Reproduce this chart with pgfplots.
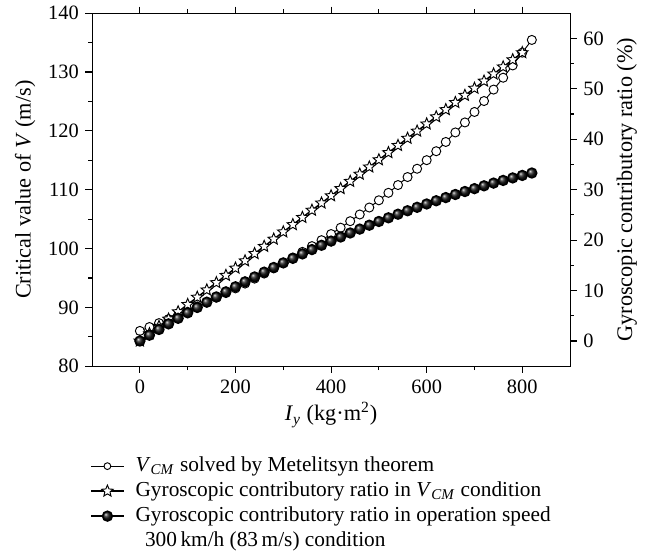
\documentclass[border=0pt]{standalone}
\usepackage{fontspec}
\setmainfont{Liberation Serif}
\usepackage{pgfplots}
\pgfplotsset{compat=1.18}
\pgfdeclareplotmark{hstar}{%
  \pgfpathmoveto{\pgfpointpolar{90}{\pgfplotmarksize}}%
  \pgfpathlineto{\pgfpointpolar{126}{0.45\pgfplotmarksize}}%
  \pgfpathlineto{\pgfpointpolar{162}{\pgfplotmarksize}}%
  \pgfpathlineto{\pgfpointpolar{198}{0.45\pgfplotmarksize}}%
  \pgfpathlineto{\pgfpointpolar{234}{\pgfplotmarksize}}%
  \pgfpathlineto{\pgfpointpolar{270}{0.45\pgfplotmarksize}}%
  \pgfpathlineto{\pgfpointpolar{306}{\pgfplotmarksize}}%
  \pgfpathlineto{\pgfpointpolar{342}{0.45\pgfplotmarksize}}%
  \pgfpathlineto{\pgfpointpolar{18}{\pgfplotmarksize}}%
  \pgfpathlineto{\pgfpointpolar{54}{0.45\pgfplotmarksize}}%
  \pgfpathclose
  \pgfusepathqfillstroke}

\pgfplotstableread{
x v
0 86.00
20 86.66
40 87.33
60 88.01
80 88.71
100 89.42
120 90.15
140 90.89
160 91.65
180 92.43
200 93.23
220 94.05
240 94.89
260 95.75
280 96.63
300 97.54
320 98.47
340 99.43
360 100.41
380 101.42
400 102.46
420 103.54
440 104.65
460 105.79
480 106.97
500 108.20
520 109.47
540 110.79
560 112.15
580 113.56
600 115.02
620 116.54
640 118.11
660 119.73
680 121.43
700 123.21
720 125.07
740 127.01
760 129.03
780 131.12
800 133.29
820 135.45
}\vcm

\pgfplotstableread{
x r
0 0.00
20 1.45
40 2.90
60 4.35
80 5.79
100 7.24
120 8.68
140 10.12
160 11.57
180 13.01
200 14.45
220 15.89
240 17.33
260 18.76
280 20.20
300 21.63
320 23.07
340 24.50
360 25.93
380 27.36
400 28.79
420 30.22
440 31.65
460 33.08
480 34.50
500 35.93
520 37.35
540 38.77
560 40.19
580 41.61
600 43.03
620 44.45
640 45.87
660 47.28
680 48.70
700 50.11
720 51.53
740 52.94
760 54.35
780 55.76
800 57.17
}\ratiocm

\pgfplotstableread{
x r
0 0.00
20 1.15
40 2.29
60 3.40
80 4.50
100 5.59
120 6.65
140 7.70
160 8.74
180 9.75
200 10.75
220 11.73
240 12.70
260 13.65
280 14.58
300 15.49
320 16.39
340 17.27
360 18.13
380 18.98
400 19.81
420 20.62
440 21.42
460 22.19
480 22.96
500 23.70
520 24.43
540 25.14
560 25.83
580 26.51
600 27.17
620 27.81
640 28.44
660 29.05
680 29.64
700 30.21
720 30.77
740 31.31
760 31.84
780 32.34
800 32.83
820 33.31
}\ratioop

\begin{document}
\begin{tikzpicture}
\pgfplotsset{
  common/.style={
    scale only axis, width=253.3pt, height=187.1pt,
    xmin=-100, xmax=900,
    tick align=outside,
    major tick length=3.5pt, minor tick length=2pt,
    every tick/.style={black, line width=0.6pt},
    axis line style={line width=0.6pt},
    /pgf/number format/assume math mode=true,
    label style={font=\fontsize{11.8}{14}\selectfont},
    tick label style={font=\fontsize{10.8}{13}\selectfont},
  }
}
\begin{axis}[common,
  ymin=80, ymax=140,
  xtick={0,200,...,800}, ytick={80,90,...,140},
  minor x tick num=1, minor y tick num=1,
  xtick pos=both, ytick pos=left,
  ylabel={Critical value of \textit{V} (m/s)},
  xlabel={\textit{I}\textsubscript{\textit{y}} (kg·m\textsuperscript{2})},
  xlabel style={yshift=2pt},
]
\addplot[black, line width=0.5pt, mark=*, mark size=2.4pt, mark options={fill=white, line width=0.5pt}] table[x=x,y=v]{\vcm};
\end{axis}
\begin{axis}[common,
  ymin=-5, ymax=65,
  axis y line*=right, axis x line=none,
  ytick={0,10,...,60}, minor y tick num=1,
  ylabel={Gyroscopic contributory ratio (\%)},
  legend style={at={(axis description cs:-0.004,-0.2465)}, anchor=north west,
    draw=none, fill=none, inner sep=0pt, row sep=0pt,
    font=\fontsize{11.3}{13.5}\selectfont,
    nodes={inner sep=1pt, text height=8.6pt, text depth=2.65pt},
    /tikz/every odd column/.append style={column sep=5pt}},
  legend cell align=left,
]
\addlegendimage{black, line width=0.5pt, mark=*, mark size=1.8pt, mark options={fill=white, line width=0.5pt}}
\addlegendentry{\textit{V}\textsubscript{\textit{CM}} solved by Metelitsyn theorem}
\addplot[black, line width=0.8pt, mark=hstar, mark size=3.2pt, mark options={fill=white, line width=0.5pt}] table[x=x,y=r]{\ratiocm};
\addlegendentry{Gyroscopic contributory ratio in \textit{V}\textsubscript{\textit{CM}} condition}
\addplot[black, line width=0.8pt, mark=ball, mark size=2.6pt, mark options={ball color=black!90}] table[x=x,y=r]{\ratioop};
\addlegendentry{Gyroscopic contributory ratio in operation speed}
\addlegendimage{empty legend}
\addlegendentry{\hspace{5pt}300\,km/h (83\,m/s) condition}
\end{axis}
\path (current axis.south west) ++(-48.8pt,-101.8pt) coordinate (bbA);
\path (current axis.north east) ++(46.6pt,5.3pt) coordinate (bbB);
\path (bbA) rectangle (bbB);
\end{tikzpicture}
\end{document}
